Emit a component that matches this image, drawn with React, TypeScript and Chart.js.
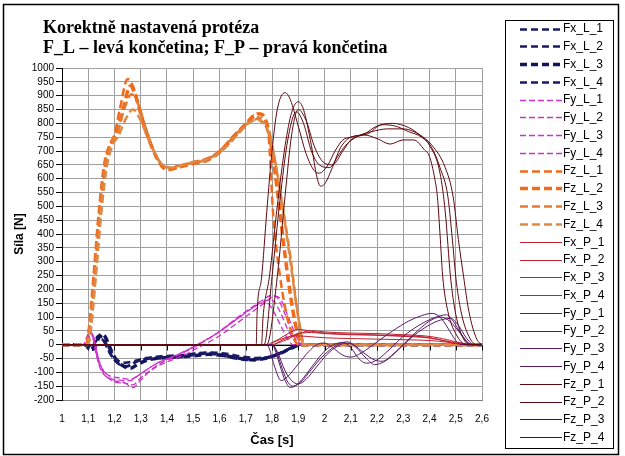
import React, { useEffect, useRef } from "react";
import { Chart, registerables } from "chart.js";

Chart.register(...registerables);

type P = [number, number];

const titleLines = ["Korektně nastavená protéza", "F_L – levá končetina; F_P – pravá končetina"];
const xTitle = "Čas [s]";
const yTitle = "Síla [N]";
const xMin = 1, xMax = 2.6, xStep = 0.1;
const yMin = -200, yMax = 1000, yStep = 50;

const seriesNames = [
  "Fx_L_1", "Fx_L_2", "Fx_L_3", "Fx_L_4",
  "Fy_L_1", "Fy_L_2", "Fy_L_3", "Fy_L_4",
  "Fz_L_1", "Fz_L_2", "Fz_L_3", "Fz_L_4",
  "Fx_P_1", "Fx_P_2", "Fx_P_3", "Fx_P_4",
  "Fy_P_1", "Fy_P_2", "Fy_P_3", "Fy_P_4",
  "Fz_P_1", "Fz_P_2", "Fz_P_3", "Fz_P_4",
];

const fxL1: P[] = [[1.0,0],[1.09,0],[1.1,-15],[1.115,-12],[1.13,22],[1.14,33],[1.155,22],[1.17,-8],[1.19,-42],[1.21,-65],[1.24,-80],[1.27,-68],[1.3,-55],[1.35,-48],[1.4,-44],[1.45,-40],[1.5,-34],[1.55,-30],[1.6,-34],[1.65,-44],[1.7,-52],[1.75,-50],[1.8,-42],[1.85,-22],[1.88,-8],[1.9,0],[2.6,0]];
const fxL2: P[] = [[1.0,0],[1.09,0],[1.105,-20],[1.12,-5],[1.135,28],[1.15,30],[1.165,10],[1.18,-25],[1.2,-55],[1.22,-72],[1.25,-78],[1.28,-62],[1.32,-52],[1.38,-50],[1.45,-45],[1.5,-38],[1.55,-33],[1.6,-38],[1.65,-48],[1.7,-55],[1.76,-52],[1.81,-40],[1.86,-18],[1.89,-4],[1.91,0],[2.6,0]];
const fxL3: P[] = [[1.0,0],[1.1,0],[1.11,-18],[1.125,-10],[1.14,25],[1.15,38],[1.165,28],[1.18,-5],[1.2,-45],[1.23,-75],[1.26,-85],[1.29,-70],[1.33,-55],[1.38,-48],[1.43,-45],[1.5,-40],[1.56,-35],[1.62,-40],[1.68,-50],[1.73,-55],[1.78,-48],[1.83,-32],[1.87,-14],[1.9,-2],[1.92,0],[2.6,0]];
const fxL4: P[] = [[1.0,0],[1.09,0],[1.1,-10],[1.12,0],[1.135,18],[1.15,20],[1.17,0],[1.19,-30],[1.21,-55],[1.24,-65],[1.28,-58],[1.32,-48],[1.38,-42],[1.45,-38],[1.5,-33],[1.56,-28],[1.62,-32],[1.68,-42],[1.74,-48],[1.79,-44],[1.84,-26],[1.88,-8],[1.9,0],[2.6,0]];

const fyL1: P[] = [[1.0,0],[1.08,0],[1.095,30],[1.105,50],[1.115,35],[1.13,-35],[1.15,-95],[1.18,-120],[1.22,-128],[1.26,-130],[1.29,-112],[1.32,-92],[1.36,-68],[1.4,-52],[1.45,-32],[1.5,-8],[1.55,18],[1.6,48],[1.65,85],[1.7,120],[1.75,152],[1.8,178],[1.82,170],[1.85,110],[1.88,40],[1.9,5],[1.92,0],[2.6,0]];
const fyL2: P[] = [[1.0,0],[1.085,0],[1.1,25],[1.11,40],[1.12,20],[1.135,-50],[1.16,-105],[1.19,-128],[1.23,-135],[1.27,-145],[1.3,-120],[1.34,-90],[1.38,-65],[1.42,-48],[1.47,-25],[1.52,0],[1.57,28],[1.62,60],[1.67,95],[1.72,130],[1.76,150],[1.78,152],[1.8,130],[1.83,75],[1.86,20],[1.88,0],[2.6,0]];
const fyL3: P[] = [[1.0,0],[1.09,0],[1.1,20],[1.115,35],[1.125,15],[1.14,-55],[1.17,-110],[1.2,-135],[1.24,-140],[1.27,-155],[1.3,-128],[1.33,-100],[1.37,-75],[1.42,-55],[1.47,-35],[1.52,-10],[1.57,15],[1.62,45],[1.67,80],[1.72,115],[1.77,150],[1.81,175],[1.83,168],[1.86,105],[1.89,35],[1.91,3],[1.93,0],[2.6,0]];
const fyL4: P[] = [[1.0,0],[1.085,0],[1.1,35],[1.11,45],[1.12,28],[1.135,-40],[1.155,-90],[1.18,-112],[1.22,-120],[1.26,-125],[1.3,-105],[1.34,-80],[1.38,-58],[1.43,-40],[1.48,-18],[1.53,8],[1.58,35],[1.63,68],[1.68,102],[1.73,135],[1.77,158],[1.8,160],[1.83,120],[1.86,55],[1.89,10],[1.9,0],[2.6,0]];

const fzL1: P[] = [[1.0,0],[1.09,0],[1.1,40],[1.12,250],[1.14,480],[1.16,650],[1.18,720],[1.2,760],[1.22,850],[1.25,960],[1.27,935],[1.3,840],[1.33,750],[1.36,680],[1.39,640],[1.42,635],[1.46,650],[1.5,660],[1.55,672],[1.6,700],[1.65,752],[1.7,800],[1.735,830],[1.765,800],[1.786,760],[1.805,463],[1.83,250],[1.86,90],[1.89,10],[1.9,0],[2.6,0]];
const fzL2: P[] = [[1.0,0],[1.095,0],[1.105,30],[1.13,300],[1.15,520],[1.17,670],[1.19,730],[1.21,770],[1.235,860],[1.26,935],[1.28,900],[1.31,800],[1.34,720],[1.37,660],[1.4,632],[1.44,640],[1.5,655],[1.55,665],[1.6,695],[1.65,745],[1.7,795],[1.75,835],[1.77,825],[1.79,760],[1.82,560],[1.85,320],[1.88,120],[1.9,30],[1.915,0],[2.6,0]];
const fzL3: P[] = [[1.0,0],[1.09,0],[1.1,35],[1.125,280],[1.145,500],[1.165,660],[1.185,725],[1.21,765],[1.24,860],[1.265,905],[1.29,870],[1.32,780],[1.35,700],[1.38,650],[1.41,640],[1.45,648],[1.5,658],[1.55,668],[1.6,700],[1.65,748],[1.7,795],[1.74,815],[1.76,820],[1.78,790],[1.8,720],[1.83,560],[1.87,317],[1.9,100],[1.925,0],[2.6,0]];
const fzL4: P[] = [[1.0,0],[1.095,0],[1.105,25],[1.13,260],[1.15,480],[1.17,640],[1.19,715],[1.215,755],[1.245,820],[1.27,850],[1.3,810],[1.33,740],[1.36,680],[1.39,645],[1.42,640],[1.46,650],[1.5,660],[1.56,672],[1.62,710],[1.67,760],[1.71,800],[1.74,812],[1.77,800],[1.8,720],[1.84,500],[1.87,300],[1.9,100],[1.92,0],[2.6,0]];

const fxP1: P[] = [[1.0,0],[1.78,0],[1.8,8],[1.83,22],[1.87,45],[1.9,55],[1.93,52],[1.97,45],[2.0,42],[2.1,38],[2.2,35],[2.3,32],[2.38,28],[2.43,20],[2.48,8],[2.52,2],[2.55,0],[2.6,0]];
const fxP2: P[] = [[1.0,0],[1.8,0],[1.82,5],[1.86,20],[1.9,38],[1.93,48],[1.96,50],[2.0,46],[2.1,42],[2.2,40],[2.3,36],[2.38,32],[2.45,22],[2.5,10],[2.55,2],[2.58,0],[2.6,0]];
const fxP3: P[] = [[1.0,0],[1.79,0],[1.81,10],[1.85,25],[1.89,32],[1.93,30],[2.0,25],[2.1,22],[2.2,20],[2.3,18],[2.4,15],[2.46,10],[2.5,4],[2.54,0],[2.6,0]];
const fxP4: P[] = [[1.0,0],[1.8,0],[1.83,12],[1.87,30],[1.91,42],[1.95,44],[2.0,40],[2.1,36],[2.2,34],[2.3,30],[2.4,24],[2.47,12],[2.52,3],[2.56,0],[2.6,0]];

const fyP1: P[] = [[1.0,0],[1.78,0],[1.79,-15],[1.81,-80],[1.835,-130],[1.86,-115],[1.9,-70],[1.94,-25],[1.97,0],[2.0,6],[2.03,-10],[2.07,-38],[2.1,-45],[2.14,-30],[2.2,10],[2.26,50],[2.32,85],[2.37,105],[2.41,113],[2.44,100],[2.47,60],[2.5,15],[2.52,0],[2.6,0]];
const fyP2: P[] = [[1.0,0],[1.8,0],[1.81,-15],[1.83,-75],[1.85,-130],[1.87,-155],[1.9,-140],[1.94,-95],[1.98,-45],[2.01,-15],[2.04,2],[2.07,8],[2.1,-10],[2.13,-50],[2.16,-67],[2.2,-55],[2.25,-15],[2.3,30],[2.36,70],[2.42,98],[2.465,108],[2.49,85],[2.52,40],[2.55,5],[2.57,0],[2.6,0]];
const fyP3: P[] = [[1.0,0],[1.8,0],[1.815,-20],[1.84,-90],[1.86,-135],[1.88,-150],[1.91,-135],[1.95,-90],[1.99,-45],[2.03,-12],[2.06,5],[2.09,10],[2.12,-10],[2.16,-50],[2.19,-72],[2.23,-60],[2.28,-20],[2.33,25],[2.38,60],[2.43,85],[2.48,95],[2.51,70],[2.54,25],[2.57,0],[2.6,0]];
const fyP4: P[] = [[1.0,0],[1.8,0],[1.82,-25],[1.85,-95],[1.875,-130],[1.9,-142],[1.93,-125],[1.97,-80],[2.01,-35],[2.05,-5],[2.08,5],[2.11,0],[2.15,-30],[2.19,-55],[2.22,-60],[2.26,-35],[2.31,10],[2.36,55],[2.4,85],[2.44,100],[2.47,90],[2.51,50],[2.54,12],[2.56,0],[2.6,0]];

const fzP1: P[] = [[1.0,0],[1.74,0],[1.743,110],[1.76,240],[1.78,480],[1.8,700],[1.82,850],[1.85,911],[1.87,885],[1.9,790],[1.93,690],[1.96,630],[1.98,620],[2.01,645],[2.04,700],[2.07,740],[2.1,750],[2.15,758],[2.2,745],[2.25,725],[2.3,740],[2.34,740],[2.38,705],[2.4,680],[2.42,600],[2.43,535],[2.44,400],[2.45,250],[2.47,120],[2.5,40],[2.54,0],[2.6,0]];
const fzP2: P[] = [[1.0,0],[1.76,0],[1.766,100],[1.79,245],[1.82,500],[1.85,720],[1.875,840],[1.9,878],[1.92,850],[1.95,720],[1.97,610],[1.985,573],[2.0,580],[2.03,640],[2.06,710],[2.1,750],[2.16,760],[2.22,795],[2.27,790],[2.32,770],[2.37,750],[2.41,710],[2.44,640],[2.47,535],[2.49,350],[2.5,245],[2.52,120],[2.55,30],[2.58,0],[2.6,0]];
const fzP3: P[] = [[1.0,0],[1.77,0],[1.8,245],[1.83,520],[1.86,740],[1.893,842],[1.92,800],[1.95,700],[1.98,650],[2.02,640],[2.05,680],[2.08,720],[2.13,755],[2.18,770],[2.24,780],[2.3,780],[2.36,760],[2.41,720],[2.46,640],[2.49,535],[2.51,380],[2.53,245],[2.55,120],[2.58,20],[2.6,0]];
const fzP4: P[] = [[1.0,0],[1.78,0],[1.82,245],[1.85,540],[1.875,760],[1.9,850],[1.93,810],[1.96,720],[1.99,665],[2.03,650],[2.07,700],[2.1,740],[2.15,760],[2.2,790],[2.26,800],[2.32,785],[2.36,760],[2.4,720],[2.44,620],[2.46,480],[2.48,245],[2.5,110],[2.53,20],[2.56,0],[2.6,0]];

const seriesData: P[][] = [
  fxL1, fxL2, fxL3, fxL4,
  fyL1, fyL2, fyL3, fyL4,
  fzL1, fzL2, fzL3, fzL4,
  fxP1, fxP2, fxP3, fxP4,
  fyP1, fyP2, fyP3, fyP4,
  fzP1, fzP2, fzP3, fzP4,
];

const seriesColors = [
  "#1a1a66", "#1a1a66", "#14145e", "#1a1a66",
  "#cc33cc", "#cc33cc", "#cc33cc", "#cc33cc",
  "#f26a1a", "#f26a1a", "#e87a30", "#dc8a48",
  "#c02030", "#c02030", "#c02030", "#c02030",
  "#5a1a6a", "#5a1a6a", "#5a1a6a", "#5a1a6a",
  "#600a10", "#600a10", "#600a10", "#600a10",
];
const seriesWidths = [
  2.5, 2.5, 3.5, 2.5,
  1.3, 1.3, 1.3, 1.3,
  2.5, 3.5, 2.5, 2.5,
  1, 1, 1, 1,
  1, 1, 1, 1,
  1, 1, 1, 1,
];
const seriesDash: number[][] = [
  [7, 4], [7, 4], [7, 4], [7, 4],
  [6, 3], [6, 3], [6, 3], [6, 3],
  [8, 4], [8, 4], [8, 4], [8, 4],
  [], [], [], [],
  [], [], [], [],
  [], [], [], [],
];

const fmtX = (v: number) => String(Math.round(v * 10) / 10).replace(".", ",");

const decoPlugin = {
  id: "deco",
  beforeDraw(chart: any) {
    const ctx = chart.ctx;
    ctx.save();
    ctx.fillStyle = "#ffffff";
    ctx.fillRect(0, 0, chart.width, chart.height);
    ctx.restore();
  },
  beforeDatasetsDraw(chart: any) {
    const ctx = chart.ctx;
    const xs = chart.scales.x;
    const ys = chart.scales.y;
    const y0 = Math.round(ys.getPixelForValue(0)) + 0.5;
    ctx.save();
    ctx.strokeStyle = "#000000";
    ctx.lineWidth = 1;
    ctx.beginPath();
    ctx.moveTo(chart.chartArea.left, y0);
    ctx.lineTo(chart.chartArea.right, y0);
    const n = Math.round((xMax - xMin) / xStep);
    for (let i = 0; i <= n; i++) {
      const px = Math.round(xs.getPixelForValue(xMin + i * xStep)) + 0.5;
      ctx.moveTo(px, y0);
      ctx.lineTo(px, y0 + 5);
    }
    ctx.stroke();
    ctx.restore();
  },
  afterDraw(chart: any) {
    const ctx = chart.ctx;
    ctx.save();
    // title
    ctx.fillStyle = "#000000";
    ctx.font = "bold 18px 'Liberation Serif', 'DejaVu Serif', serif";
    ctx.textAlign = "left";
    ctx.textBaseline = "alphabetic";
    ctx.fillText(titleLines[0], 43, 33);
    ctx.fillText(titleLines[1], 43, 52.5);
    // legend box
    ctx.strokeStyle = "#000000";
    ctx.lineWidth = 1;
    ctx.strokeRect(505.5, 20.5, 108, 428);
    const ds = chart.data.datasets;
    ctx.font = "12px 'Liberation Sans', Arial, sans-serif";
    ctx.textBaseline = "middle";
    for (let i = 0; i < ds.length; i++) {
      const y = 28.5 + i * 17.77;
      ctx.save();
      ctx.strokeStyle = ds[i].borderColor;
      ctx.lineWidth = ds[i].borderWidth;
      ctx.setLineDash(ds[i].borderDash || []);
      ctx.beginPath();
      ctx.moveTo(520, Math.round(y) + 0.5);
      ctx.lineTo(562, Math.round(y) + 0.5);
      ctx.stroke();
      ctx.restore();
      ctx.fillStyle = "#000000";
      ctx.fillText(ds[i].label, 563, y + 0.5);
    }
    // outer frame
    ctx.lineWidth = 1.5;
    ctx.strokeStyle = "#000000";
    ctx.strokeRect(3.5, 4.5, 615, 450);
    ctx.restore();
  },
};

export default function App() {
  const ref = useRef<HTMLCanvasElement | null>(null);
  useEffect(() => {
    if (!ref.current) return;
    const datasets = seriesNames.map((name, i) => ({
      label: name,
      data: seriesData[i].map(([x, y]) => ({ x, y })),
      borderColor: seriesColors[i],
      backgroundColor: seriesColors[i],
      borderWidth: seriesWidths[i],
      borderDash: seriesDash[i],
      showLine: true,
      pointRadius: 0,
      pointHoverRadius: 0,
      fill: false,
      cubicInterpolationMode: "monotone" as const,
      order: seriesNames.length - i,
    }));
    const chart = new Chart(ref.current, {
      type: "scatter",
      data: { datasets },
      options: {
        animation: false,
        responsive: false,
        devicePixelRatio: 1,
        layout: { padding: { left: 0, top: 68, right: 143, bottom: 0 } },
        plugins: {
          legend: { display: false },
          tooltip: { enabled: false },
          title: { display: false },
        },
        scales: {
          x: {
            type: "linear",
            min: xMin,
            max: xMax,
            afterFit: (s: any) => { s.height = 56; },
            ticks: {
              stepSize: xStep,
              autoSkip: false,
              maxRotation: 0,
              padding: 13,
              color: "#000000",
              font: { family: "'Liberation Sans', Arial, sans-serif", size: 10 },
              callback: (v: any) => fmtX(Number(v)),
            },
            grid: { color: "#a0a0a0", lineWidth: 1, drawTicks: false },
            border: { display: true, color: "#808080" },
            title: {
              display: true,
              text: xTitle,
              color: "#000000",
              font: { family: "'Liberation Sans', Arial, sans-serif", size: 13, weight: "bold" },
              padding: { top: 0, bottom: 8 },
            },
          },
          y: {
            type: "linear",
            min: yMin,
            max: yMax,
            afterFit: (s: any) => { s.width = 62; },
            ticks: {
              stepSize: yStep,
              autoSkip: false,
              padding: 2,
              color: "#000000",
              font: { family: "'Liberation Sans', Arial, sans-serif", size: 10 },
              callback: (v: any) => String(v),
            },
            grid: { color: "#a0a0a0", lineWidth: 1, tickLength: 6, tickColor: "#000000" },
            border: { display: true, color: "#000000" },
            title: {
              display: true,
              text: yTitle,
              color: "#000000",
              font: { family: "'Liberation Sans', Arial, sans-serif", size: 12, weight: "bold" },
              padding: { top: 12, bottom: 0 },
            },
          },
        },
      },
      plugins: [decoPlugin],
    });
    return () => chart.destroy();
  }, []);
  return (
    <div style={{ position: "absolute", left: 0, top: 0, width: 625, height: 456 }}>
      <canvas ref={ref} width={625} height={456} style={{ width: 625, height: 456, display: "block" }} />
    </div>
  );
}
